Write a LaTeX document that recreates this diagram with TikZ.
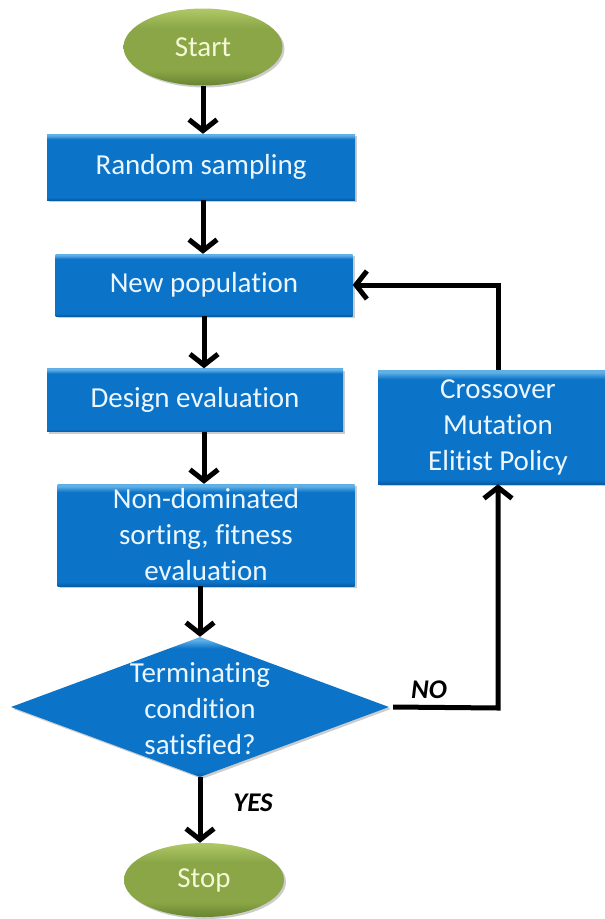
\documentclass[tikz,border=0pt]{standalone}
\usepackage{fontspec}
\setmainfont{Carlito}[Ligatures=NoCommon]
\usetikzlibrary{shapes.geometric,arrows.meta,shadows}

\definecolor{boxL}{RGB}{96,176,232}
\definecolor{boxM}{RGB}{12,116,200}
\definecolor{boxD}{RGB}{6,92,168}
\definecolor{grnL}{RGB}{176,200,104}
\definecolor{grnM}{RGB}{138,166,70}
\definecolor{grnD}{RGB}{104,132,48}
\definecolor{boxtext}{RGB}{236,246,255}
\definecolor{grntext}{RGB}{244,248,214}

% vertical shadings: bevelled light top edge, darker bottom edge
\pgfdeclareverticalshading{blueshade}{100bp}{color(0bp)=(boxD); color(25bp)=(boxD); color(27bp)=(boxM); color(71bp)=(boxM); color(74bp)=(boxL); color(100bp)=(boxL)}
\pgfdeclareverticalshading{greenshade}{100bp}{color(0bp)=(grnD); color(25bp)=(grnD); color(35bp)=(grnM); color(62bp)=(grnM); color(75bp)=(grnL); color(100bp)=(grnL)}

\tikzset{
  procbox/.style={rectangle, shading=blueshade, inner sep=0pt,
    drop shadow={opacity=0.4, shadow xshift=2pt, shadow yshift=-2pt},
    text=boxtext, font=\fontsize{29}{36}\selectfont, align=center},
  terminal/.style={ellipse, shading=greenshade, inner sep=0pt,
    drop shadow={opacity=0.4, shadow xshift=2pt, shadow yshift=-2pt},
    text=grntext, font=\fontsize{29}{36}\selectfont},
  decision/.style={diamond, shading=blueshade, inner sep=0pt,
    drop shadow={opacity=0.4, shadow xshift=2pt, shadow yshift=-2pt}},
  dectext/.style={text=boxtext, font=\fontsize{29}{36}\selectfont, align=center, inner sep=0pt},
  flow/.style={line width=5pt, -{Straight Barb[length=11pt,width=28pt]}},
  answer/.style={font=\fontsize{27}{30}\selectfont\bfseries\itshape, text=black, inner sep=0pt}
}

\begin{document}
\begin{tikzpicture}[x=1pt,y=-1pt]
  \useasboundingbox (0,0) rectangle (605,919);
  \begin{scope}
    \clip (0,0) rectangle (605,919);

    % terminals
    \node[terminal, minimum width=159pt, minimum height=77pt] (start) at (203,47) {Start};
    \node[terminal, minimum width=160pt, minimum height=74pt] (stop) at (204,880) {Stop};

    % process boxes
    \node[procbox, minimum width=308pt, minimum height=66pt] (rs) at (201,167) {Random sampling};
    \node[procbox, minimum width=297pt, minimum height=62pt] (np) at (204,285) {New population};
    \node[procbox, minimum width=296pt, minimum height=63pt] (de) at (195,400) {Design evaluation};
    \node[procbox, minimum width=297pt, minimum height=102pt] (nd) at (206,535)
      {Non-dominated\\sorting, fitness\\evaluation};
    \node[procbox, minimum width=240pt, minimum height=114pt] (co) at (498,427)
      {Crossover\\Mutation\\Elitist Policy};

    % decision
    \node[decision, minimum width=378pt, minimum height=140pt] (dec) at (200,707) {};
    \node[dectext] (dect) at (200,709) {Terminating\\condition\\satisfied?};

    % main flow
    \draw[flow] (start.south) -- (start.south |- rs.north);
    \draw[flow] (rs.south -| start.south) -- (start.south |- np.north);
    \draw[flow] (np.south) -- (np.south |- de.north);
    \draw[flow] (de.south -| np.south) -- (np.south |- nd.north);
    \draw[flow] (nd.south -| dec.north) -- (dec.north);
    \draw[flow] (dec.south) -- (dec.south |- stop.north);

    % loop back through the genetic operators
    \coordinate (noturn) at (498,708);
    \coordinate (upturn) at (498,285);
    \draw[flow] ([xshift=4pt]dec.east) -- (noturn) -- (co.south);
    \draw[flow] (co.north) -- (upturn) -- (np.east);

    % branch labels
    \node[answer] (nolbl) at (429,690) {NO};
    \node[answer] (yeslbl) at (253,803) {YES};
  \end{scope}
\end{tikzpicture}
\end{document}
